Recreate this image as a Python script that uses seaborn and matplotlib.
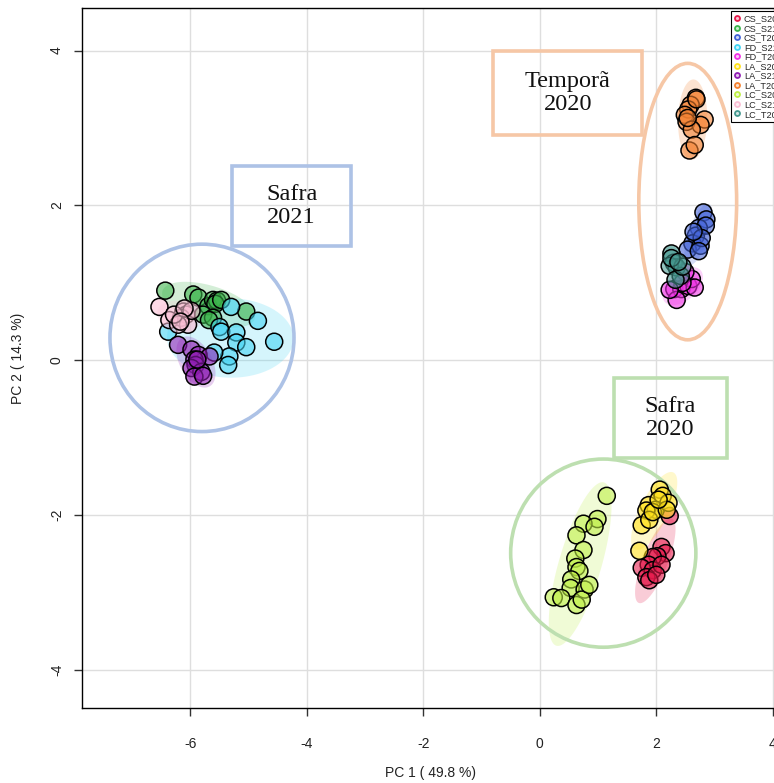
import numpy as np
import pandas as pd
import matplotlib
matplotlib.use("Agg")
import matplotlib.pyplot as plt
from matplotlib.patches import Ellipse, Rectangle
from matplotlib.lines import Line2D
import seaborn as sns

# PCA scores (PC1, PC2) per sample group
groups = ["CS_S20", "CS_S21", "CS_T20", "FD_S21", "FD_T20", "LA_S20",
          "LA_S21", "LA_T20", "LC_S20", "LC_S21", "LC_T20"]

cs_s20_x = [2.23, 2.09, 2.16, 2.02, 1.94, 1.87, 1.75, 1.94, 1.83, 1.88, 2.09, 2.00]
cs_s20_y = [-2.01, -2.41, -2.49, -2.53, -2.54, -2.64, -2.68, -2.71, -2.80, -2.84, -2.64, -2.77]

cs_s21_x = [-6.43, -5.95, -5.86, -5.69, -5.61, -5.54, -5.57, -5.04, -5.78, -5.61, -5.47, -5.68]
cs_s21_y = [0.90, 0.85, 0.81, 0.70, 0.78, 0.77, 0.73, 0.63, 0.59, 0.55, 0.78, 0.52]

cs_t20_x = [2.81, 2.86, 2.73, 2.68, 2.62, 2.54, 2.76, 2.85, 2.78, 2.64, 2.73]
cs_t20_y = [1.91, 1.82, 1.71, 1.61, 1.51, 1.43, 1.48, 1.74, 1.58, 1.66, 1.41]

fd_s21_x = [-5.30, -4.84, -4.56, -5.50, -5.47, -5.21, -5.21, -5.04, -5.33, -5.35, -5.59, -6.38]
fd_s21_y = [0.69, 0.51, 0.24, 0.43, 0.37, 0.36, 0.23, 0.17, 0.05, -0.06, 0.10, 0.37]

fd_t20_x = [2.31, 2.43, 2.55, 2.61, 2.50, 2.35, 2.66, 2.45, 2.23]
fd_t20_y = [0.92, 0.92, 0.96, 1.05, 1.14, 0.78, 0.94, 1.00, 0.91]

la_s20_x = [2.06, 2.11, 1.87, 1.99, 2.21, 1.83, 1.75, 1.88, 1.94, 1.71, 2.18, 2.04]
la_s20_y = [-1.67, -1.75, -1.87, -1.93, -1.84, -1.94, -2.13, -2.06, -1.96, -2.46, -1.93, -1.80]

la_s21_x = [-6.21, -5.98, -5.86, -5.67, -5.93, -5.91, -5.98, -5.81, -5.93, -5.78, -5.88]
la_s21_y = [0.20, 0.14, 0.07, 0.05, 0.01, -0.06, -0.10, -0.15, -0.21, -0.20, 0.01]

la_t20_x = [2.68, 2.59, 2.55, 2.49, 2.52, 2.83, 2.76, 2.61, 2.57, 2.66, 2.69, 2.54]
la_t20_y = [3.39, 3.30, 3.24, 3.17, 3.08, 3.11, 3.04, 2.98, 2.71, 2.78, 3.37, 3.13]

lc_s20_x = [1.15, 0.99, 0.75, 0.94, 0.63, 0.75, 0.61, 0.63, 0.68, 0.54, 0.53, 0.77,
            0.24, 0.37, 0.63, 0.72, 0.85]
lc_s20_y = [-1.75, -2.05, -2.11, -2.15, -2.26, -2.45, -2.56, -2.67, -2.72, -2.83, -2.94, -2.96,
            -3.06, -3.07, -3.16, -3.09, -2.90]

lc_s21_x = [-6.53, -6.12, -6.07, -6.16, -6.36, -6.04, -6.21, -6.28, -5.98, -6.10, -6.17]
lc_s21_y = [0.69, 0.63, 0.59, 0.55, 0.52, 0.46, 0.46, 0.59, 0.64, 0.67, 0.50]

lc_t20_x = [2.26, 2.30, 2.35, 2.23, 2.42, 2.33, 2.45, 2.26, 2.38]
lc_t20_y = [1.38, 1.26, 1.20, 1.22, 1.09, 1.04, 1.21, 1.32, 1.27]

scores = {
    "CS_S20": (cs_s20_x, cs_s20_y), "CS_S21": (cs_s21_x, cs_s21_y),
    "CS_T20": (cs_t20_x, cs_t20_y), "FD_S21": (fd_s21_x, fd_s21_y),
    "FD_T20": (fd_t20_x, fd_t20_y), "LA_S20": (la_s20_x, la_s20_y),
    "LA_S21": (la_s21_x, la_s21_y), "LA_T20": (la_t20_x, la_t20_y),
    "LC_S20": (lc_s20_x, lc_s20_y), "LC_S21": (lc_s21_x, lc_s21_y),
    "LC_T20": (lc_t20_x, lc_t20_y),
}

colors = ["#e6194b", "#3cb44b", "#4363d8", "#42d4f4", "#f032e6", "#ffe119",
          "#911eb4", "#f58231", "#bfef45", "#fabed4", "#469990"]

# season annotations: label, box (x0, y0, x1, y1), ring (cx, cy, w, h), colour
season_labels = ["Safra\n2021", "Temporã\n2020", "Safra\n2020"]
season_boxes = [(-5.28, 1.48, -3.24, 2.51), (-0.80, 2.91, 1.76, 3.99), (1.27, -1.26, 3.21, -0.23)]
season_rings = [(-5.80, 0.29, 3.16, 2.42), (2.54, 2.05, 1.68, 3.57), (1.09, -2.49, 3.18, 2.43)]
season_colors = ["#adc2e6", "#f6c7a6", "#bddfb0"]

df = pd.concat(
    [pd.DataFrame({"PC1": v[0], "PC2": v[1], "group": k}) for k, v in scores.items()],
    ignore_index=True,
)

sns.set_theme(style="ticks")
plt.rcParams["font.family"] = ["Liberation Sans", "DejaVu Sans"]
plt.rcParams["axes.unicode_minus"] = False

fig = plt.figure(figsize=(7.74, 7.83), dpi=100)
ax = fig.add_axes([82 / 774, 75 / 783, 696 / 774, 700 / 783])

ax.set_xlim(-7.86, 4.09)
ax.set_ylim(-4.49, 4.55)
ax.set_xticks([-6, -4, -2, 0, 2, 4])
ax.set_yticks([-4, -2, 0, 2, 4])
ax.grid(True, color="#dedede", linewidth=1.0, zorder=0)
ax.set_axisbelow(True)


def conf_ellipse(x, y, chi2=5.991, n=200):
    x = np.asarray(x); y = np.asarray(y)
    cov = np.cov(x, y)
    vals, vecs = np.linalg.eigh(cov)
    t = np.linspace(0, 2 * np.pi, n)
    circ = np.vstack([np.cos(t), np.sin(t)]) * np.sqrt(vals[:, None] * chi2)
    pts = vecs @ circ
    return pts[0] + x.mean(), pts[1] + y.mean()


# 95% confidence regions per group
for g, c in zip(groups, colors):
    ex, ey = conf_ellipse(*scores[g])
    ax.fill(ex, ey, color=c, alpha=0.22, linewidth=0, zorder=1)

# season rings and labels
for lab, box, ring, col in zip(season_labels, season_boxes, season_rings, season_colors):
    ax.add_patch(Ellipse((ring[0], ring[1]), ring[2], ring[3], fill=False,
                         edgecolor=col, linewidth=2.6, zorder=2))
    x0, y0, x1, y1 = box
    ax.add_patch(Rectangle((x0, y0), x1 - x0, y1 - y0, fill=False,
                           edgecolor=col, linewidth=2.6, zorder=2))
    ax.text((x0 + x1) / 2, (y0 + y1) / 2, lab, ha="center", va="center",
            fontsize=17.5, family=["Liberation Serif", "DejaVu Serif"],
            linespacing=1.15, color="#111111", zorder=3)

palette = {g: matplotlib.colors.to_rgba(c, 0.58) for g, c in zip(groups, colors)}
sns.scatterplot(data=df, x="PC1", y="PC2", hue="group", palette=palette,
                hue_order=groups, s=150, edgecolor="black", linewidth=1.1,
                legend=False, ax=ax, zorder=4)

for sp in ax.spines.values():
    sp.set_color("black")
    sp.set_linewidth(1.0)

ax.tick_params(direction="out", length=6, width=1, color="#333333",
               labelsize=10, labelcolor="#222222")
ax.tick_params(axis="x", pad=15)
ax.tick_params(axis="y", pad=7)
for lbl in ax.get_yticklabels():
    lbl.set_rotation(90)
    lbl.set_va("center")
ax.set_xlabel("PC 1 ( 49.8 %)", fontsize=10, labelpad=11, color="#222222")
ax.set_ylabel("PC 2 ( 14.3 %)", fontsize=10, labelpad=18, color="#222222")

handles = [Line2D([0], [0], marker="o", linestyle="none", markersize=3.6,
                  markeredgewidth=1.3, markeredgecolor=c,
                  markerfacecolor=matplotlib.colors.to_rgba(c, 0.25))
           for c in colors]
leg = fig.legend(handles, groups, loc="upper left",
                 bbox_to_anchor=(731 / 774, 1 - 11 / 783),
                 fontsize=6.6, frameon=True, fancybox=False, framealpha=1,
                 edgecolor="black", labelspacing=0.06, handlelength=0.6,
                 handletextpad=0.45, borderpad=0.35, borderaxespad=0)
leg.get_frame().set_linewidth(0.8)

fig.savefig("out.png", dpi=100)
